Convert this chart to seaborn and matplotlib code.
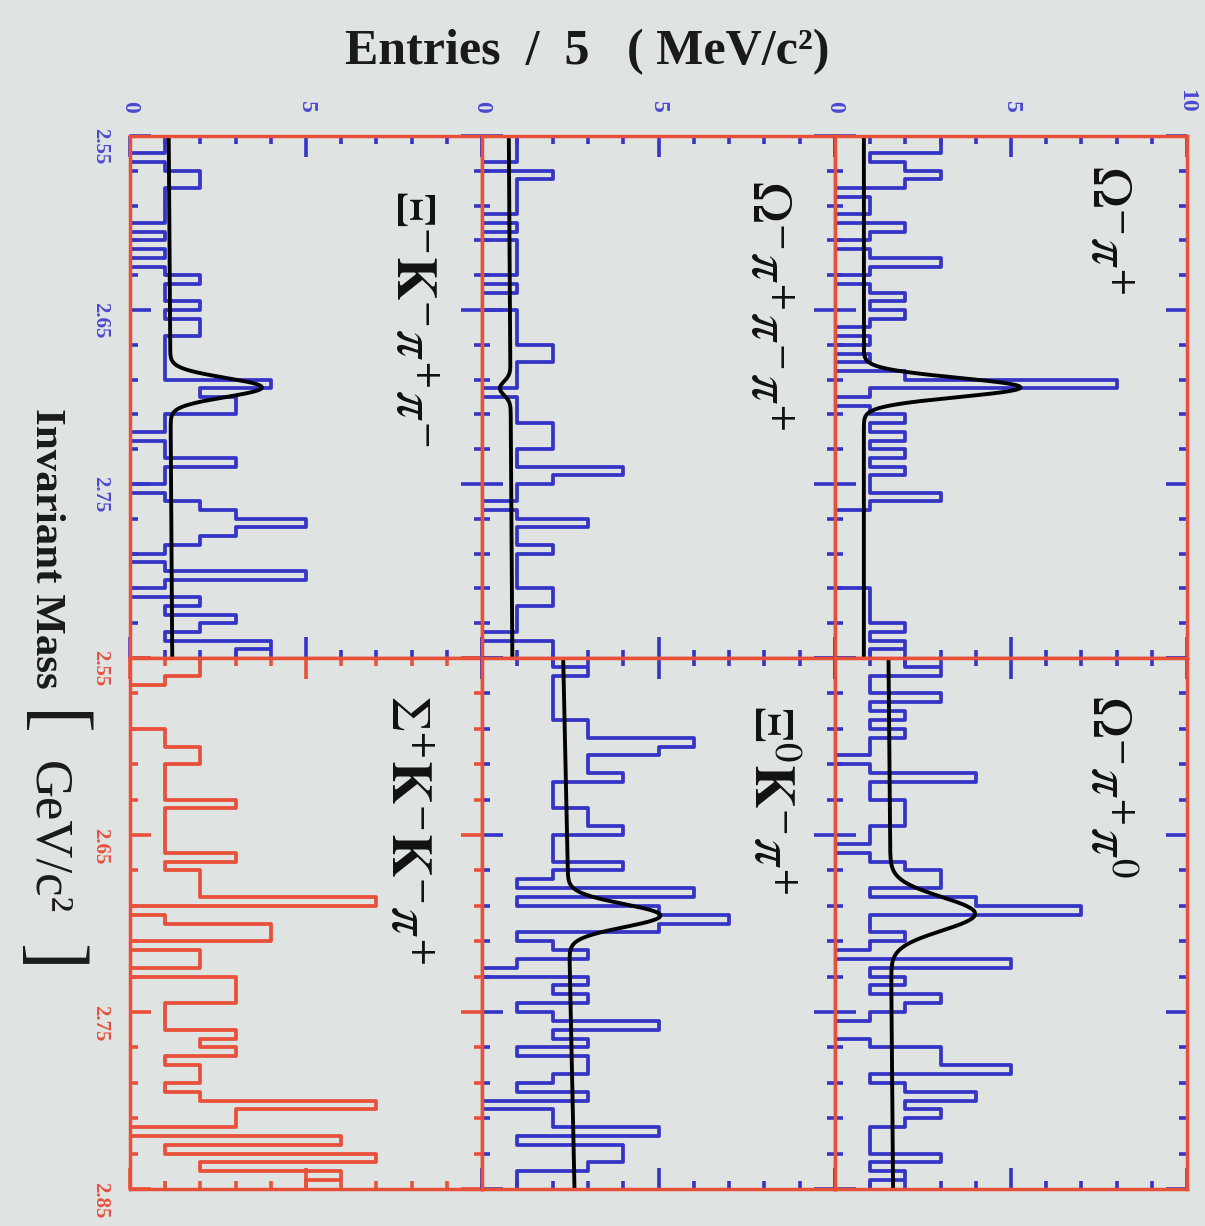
import numpy as np
import pandas as pd
import matplotlib
matplotlib.use("Agg")
import matplotlib.pyplot as plt
import seaborn as sns
from matplotlib.ticker import FixedLocator, MultipleLocator

# ---------------- data (entries per 5 MeV bin, 2.55 -> 2.85 GeV) ----------------
mass_lo, mass_hi, bin_width = 2.55, 2.85, 0.005

counts_omega_pi = [3,3,1,2,3,2,0,1,1,0, 2,1,0,1,3,1,0,1,2,1,
                   2,1,0,1,0,1,0,2,8,1, 0,1,2,1,2,1,2,1,2,1,
                   1,3,1,0,0,0,0,0,0,0, 0,0,1,1,1,1,2,1,2,1]
counts_omega_pi_pi0 = [2,3,1,1,3,1,2,1,2,1, 1,0,1,4,1,1,2,2,2,1,
                       1,0,1,2,3,3,1,4,7,1, 1,2,1,0,5,1,2,1,3,2,
                       1,0,0,1,3,3,5,1,2,4, 2,3,2,1,1,1,3,1,2,1]
counts_omega_3pi = [1,1,1,0,2,1,1,1,1,0, 1,0,1,1,1,1,0,1,0,0,
                    1,1,1,1,2,2,1,1,1,0, 1,1,1,2,2,2,1,1,4,2,
                    1,1,0,1,3,1,1,2,1,1, 1,1,2,2,1,1,1,0,2,2]
counts_xi_k_2pi = [1,1,0,1,2,2,1,1,1,1, 0,1,0,1,0,1,2,1,1,2,
                   1,2,2,1,1,1,1,1,4,2, 3,3,1,1,0,1,1,3,1,1,
                   0,1,2,3,5,3,2,1,0,1, 5,1,0,2,1,3,2,1,4,3]
counts_xi0_k_pi = [2,3,2,2,2,2,2,3,3,6, 5,3,3,4,2,2,2,3,3,4,
                   2,2,2,4,2,1,6,1,5,7, 5,1,2,3,1,0,3,2,3,1,
                   2,5,2,3,1,3,3,2,1,3, 0,2,2,5,1,4,4,3,1,1]
counts_sigma_kk_pi = [2,2,1,0,0,0,0,0,1,1, 2,2,1,1,1,1,3,1,1,1,
                      1,1,3,1,2,2,2,7,0,1, 4,4,0,2,2,0,3,3,3,1,
                      1,1,3,2,3,1,2,2,1,2, 7,3,3,0,6,1,7,2,6,5]

panel_labels = [r"$\Xi^{-}\mathbf{K}^{-}\pi^{+}\pi^{-}$",
                r"$\Sigma^{+}\mathbf{K}^{-}\mathbf{K}^{-}\pi^{+}$",
                r"$\Omega^{-}\pi^{+}\pi^{-}\pi^{+}$",
                r"$\Xi^{0}\mathbf{K}^{-}\pi^{+}$",
                r"$\Omega^{-}\pi^{+}$",
                r"$\Omega^{-}\pi^{+}\pi^{0}$"]
panel_counts = [counts_xi_k_2pi, counts_sigma_kk_pi, counts_omega_3pi,
                counts_xi0_k_pi, counts_omega_pi, counts_omega_pi_pi0]

# fitted curves: linear background (start, end) + gaussian (amp, mean, sigma)
fit_bkg_start = [1.10, None, 0.76, 2.30, 0.82, 1.52]
fit_bkg_end   = [1.20, None, 0.86, 2.62, 0.82, 1.65]
fit_amp       = [2.60, None, -0.30, 2.60, 4.45, 2.40]
fit_mean      = [2.6945, None, 2.695, 2.6955, 2.6945, 2.6945]
fit_sigma     = [0.0055, None, 0.004, 0.0065, 0.0055, 0.0095]

entries_ticklabels_top = [["0", "5", ""], ["0", "5", ""], ["0", "5", "10"]]
mass_ticklabels_left = [["2.55", "2.65", "2.75", ""], ["2.55", "2.65", "2.75", "2.85"]]

# ---------------- style ----------------
BG = "#dfe3e1"
BLUE = "#3434c6"
RED = "#e9503a"
LBLUE = "#4a4ad2"
plt.rcParams["mathtext.fontset"] = "stix"
plt.rcParams["font.family"] = ["Liberation Serif", "DejaVu Serif"]

W, H = 1205, 1226
fig = plt.figure(figsize=(W / 100, H / 100), dpi=100)
fig.patch.set_facecolor(BG)

col_x = [130, 482, 835, 1187]
row_y = [136, 658, 1189]

edges = np.linspace(mass_lo, mass_hi, 61)
centers = edges[:-1] + bin_width / 2
grid = np.linspace(mass_lo, mass_hi, 901)

k = 0
for c in range(3):
    for r in range(2):
        l, rr = col_x[c], col_x[c + 1]
        t, b = row_y[r], row_y[r + 1]
        ax = fig.add_axes([l / W, 1 - b / H, (rr - l) / W, (b - t) / H])
        ax.set_facecolor(BG)
        red_panel = (c == 0 and r == 1)
        hcol = RED if red_panel else BLUE
        df = pd.DataFrame({"mass": centers, "count": panel_counts[k]})
        sns.histplot(data=df, y="mass", weights="count", bins=edges.tolist(), element="step",
                     fill=False, color=hcol, linewidth=2.7, ax=ax)
        if fit_amp[k] is not None:
            bkg = fit_bkg_start[k] + (fit_bkg_end[k] - fit_bkg_start[k]) * (grid - mass_lo) / (mass_hi - mass_lo)
            curve = bkg + fit_amp[k] * np.exp(-0.5 * ((grid - fit_mean[k]) / fit_sigma[k]) ** 2)
            cdf = pd.DataFrame({"m": grid, "f": curve})
            sns.lineplot(data=cdf, x="f", y="m", orient="y", sort=False, estimator=None,
                         color="black", linewidth=2.8, ax=ax)
        ax.set_xlim(0, 10)
        ax.set_ylim(mass_hi, mass_lo)
        ax.set_xlabel("")
        ax.set_ylabel("")
        for s in ax.spines.values():
            s.set_color(RED)
            s.set_linewidth(2.5)
        tcol = RED if red_panel else BLUE
        ax.xaxis.set_major_locator(FixedLocator([0, 5, 10]))
        ax.xaxis.set_minor_locator(MultipleLocator(1))
        ax.yaxis.set_major_locator(FixedLocator([2.55, 2.65, 2.75, 2.85]))
        ax.yaxis.set_minor_locator(FixedLocator(np.arange(2.55, 2.8501, 0.02)))
        ax.tick_params(which="both", direction="in", top=True, right=True, bottom=True,
                       left=True, color=tcol, width=2.6)
        ax.tick_params(which="major", length=15)
        ax.tick_params(which="minor", length=6)
        ax.tick_params(labelbottom=False, labelright=False,
                       labeltop=(r == 0), labelleft=(c == 0))
        if r == 0:
            ax.set_xticklabels(entries_ticklabels_top[c], fontsize=17, fontweight="bold")
            ax.tick_params(axis="x", which="major", labelrotation=-90, pad=17,
                           labelcolor=LBLUE)
        if c == 0:
            ax.set_yticklabels(mass_ticklabels_left[r], fontsize=15, fontweight="bold")
            ax.tick_params(axis="y", which="major", labelrotation=-90, pad=14,
                           labelcolor=(RED if r == 1 else LBLUE))
        k += 1

# panel labels (rotated like the original)
label_pos = [(410, 190), (405, 695), (765, 180), (768, 705), (1105, 165), (1105, 695)]
for lab, (px, py) in zip(panel_labels, label_pos):
    fig.text(px / W, 1 - py / H, lab, rotation=-90, ha="center", va="top",
             fontsize=40, color="#111111")

fig.text(587 / W, 1 - 52 / H, "Entries  /  5   ( MeV/c²)", ha="center", va="center",
         fontsize=36, fontweight="bold", color="#1a1a1a")
fig.text(46 / W, 1 - 548 / H, "Invariant Mass", rotation=-90, ha="center", va="center",
         fontsize=31, fontweight="bold", color="#1a1a1a")
fig.text(50 / W, 1 - 724 / H, "[", rotation=-90, ha="center", va="center",
         fontsize=58, color="#1a1a1a")
fig.text(47 / W, 1 - 838 / H, "GeV/c²", rotation=-90, ha="center", va="center",
         fontsize=38, color="#1a1a1a")
fig.text(50 / W, 1 - 957 / H, "]", rotation=-90, ha="center", va="center",
         fontsize=58, color="#1a1a1a")

fig.savefig("out.png", dpi=100, facecolor=BG)
